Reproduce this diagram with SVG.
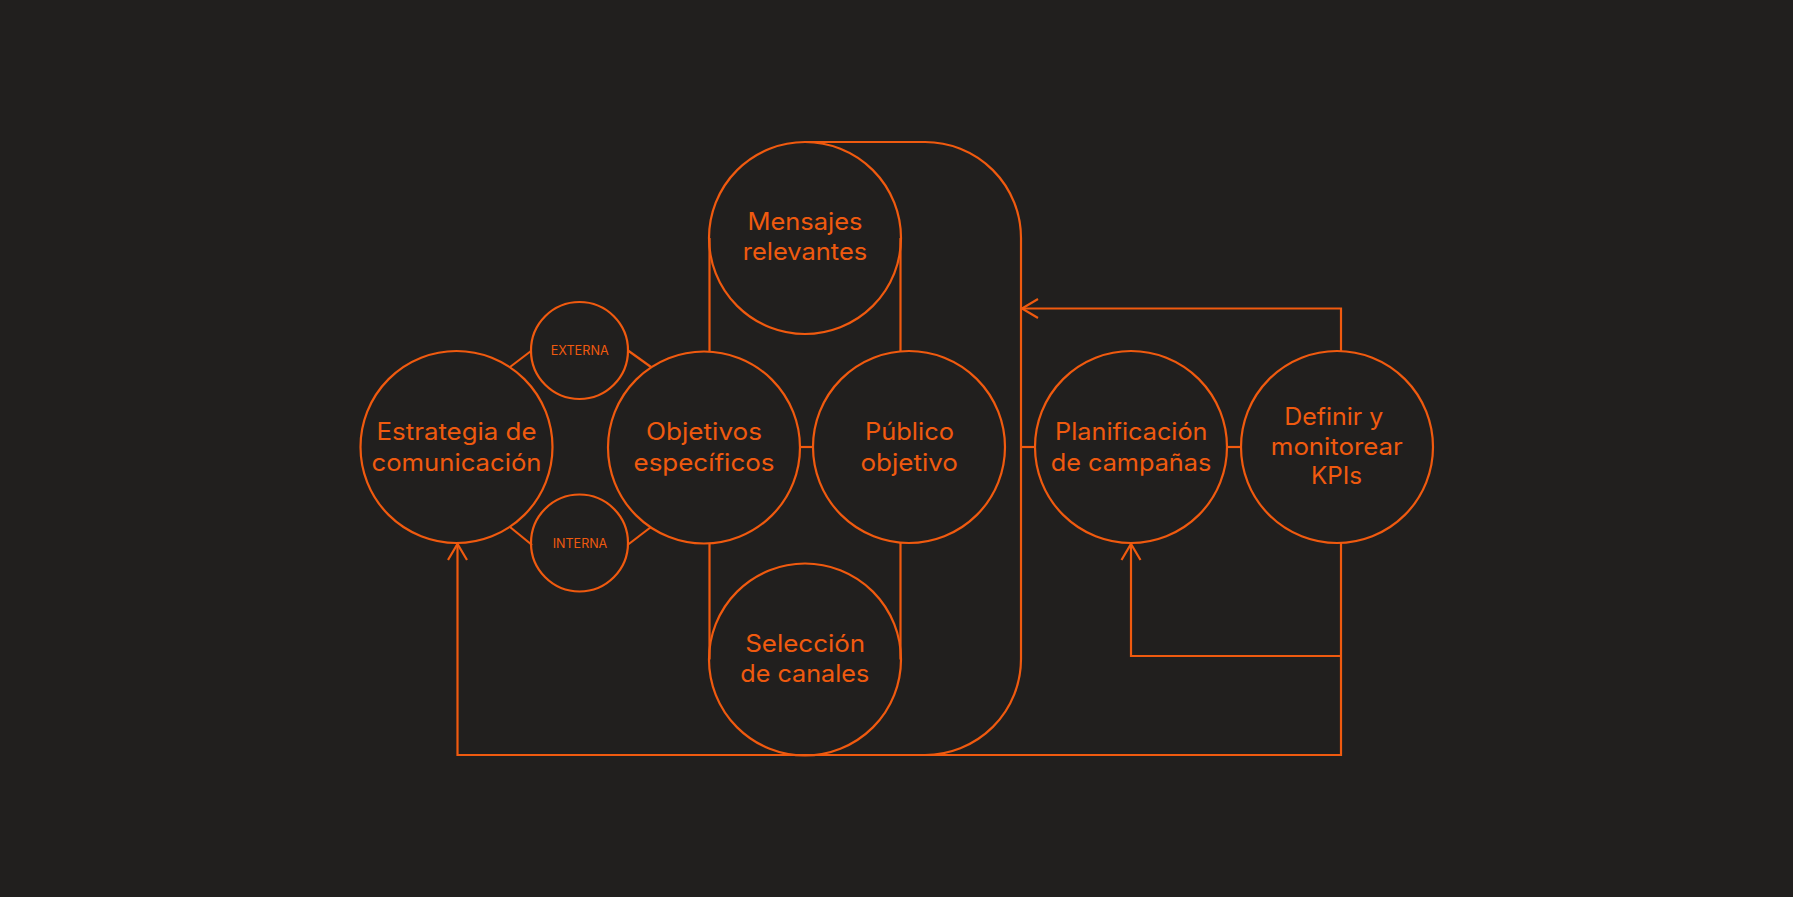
<svg xmlns="http://www.w3.org/2000/svg" width="1793" height="897" viewBox="0 0 1793 897">
<style>
.n{fill:none;stroke:#F05A0F;stroke-width:2.2}
.c{fill:none;stroke:#F05A0F;stroke-width:2.2;stroke-linejoin:miter}
.t{fill:#F05A0F;font-family:Inter,"Noto Sans","Liberation Sans",sans-serif;font-size:24px;text-anchor:middle}
.s{fill:#F05A0F;font-family:Inter,"Noto Sans","Liberation Sans",sans-serif;font-size:13px;text-anchor:middle}
</style>
<defs>
<marker id="arr" markerUnits="userSpaceOnUse" markerWidth="40" markerHeight="40" viewBox="-20 -20 40 40" refX="0" refY="0" orient="auto">
<path d="M -16 -9.5 L 0 0 L -16 9.5" fill="none" stroke="#F05A0F" stroke-width="2.2"/>
</marker>
</defs>
<rect width="1793" height="897" fill="#211F1E"/>
<g id="connectors">
<path class="c" d="M 510 367 L 531 351"/>
<path class="c" d="M 628 350.5 L 651 367"/>
<path class="c" d="M 510 527 L 532 545"/>
<path class="c" d="M 627.5 545 L 651 527"/>
<path class="c" d="M 800 447 H 813"/>
<path class="c" d="M 709.5 238 V 351.5 M 709.5 543.5 V 659.5 M 900.5 238 V 351.5 M 900.5 542.5 V 659.5"/>
<path class="c" d="M 805 142 H 925 A 96 96 0 0 1 1021 238 V 659 A 96 96 0 0 1 925 755"/>
<path class="c" d="M 1021 447 H 1035"/>
<path class="c" d="M 1227 447 H 1241"/>
<path class="c" d="M 1341 351 V 308.5 H 1022" marker-end="url(#arr)"/>
<path class="c" d="M 1341 656 H 1131 V 544" marker-end="url(#arr)"/>
<path class="c" d="M 1341 543 V 755 H 457.5 V 544" marker-end="url(#arr)"/>
</g>
<g id="estrategia">
<circle class="n" cx="456.5" cy="447" r="96"/>
<text class="t" x="456.5" y="440" textLength="160" lengthAdjust="spacingAndGlyphs">Estrategia de</text>
<text class="t" x="456.5" y="470.5" textLength="170" lengthAdjust="spacingAndGlyphs">comunicación</text>
</g>
<g id="externa">
<circle class="n" cx="579.5" cy="350.5" r="48.5"/>
<text class="s" x="579.7" y="355.3" textLength="58" lengthAdjust="spacingAndGlyphs">EXTERNA</text>
</g>
<g id="interna">
<circle class="n" cx="579.5" cy="543" r="48.5"/>
<text class="s" x="580" y="547.7" textLength="54.5" lengthAdjust="spacingAndGlyphs">INTERNA</text>
</g>
<g id="objetivos">
<circle class="n" cx="704" cy="447.5" r="96"/>
<text class="t" x="704" y="440" textLength="116" lengthAdjust="spacingAndGlyphs">Objetivos</text>
<text class="t" x="704" y="470.5" textLength="141" lengthAdjust="spacingAndGlyphs">específicos</text>
</g>
<g id="mensajes">
<circle class="n" cx="805" cy="238" r="96"/>
<text class="t" x="805" y="230" textLength="115" lengthAdjust="spacingAndGlyphs">Mensajes</text>
<text class="t" x="805" y="260" textLength="124.5" lengthAdjust="spacingAndGlyphs">relevantes</text>
</g>
<g id="publico">
<circle class="n" cx="909" cy="447" r="96"/>
<text class="t" x="909.5" y="440" textLength="89" lengthAdjust="spacingAndGlyphs">Público</text>
<text class="t" x="909.2" y="470.5" textLength="97.5" lengthAdjust="spacingAndGlyphs">objetivo</text>
</g>
<g id="seleccion">
<circle class="n" cx="805" cy="659.5" r="96"/>
<text class="t" x="805.2" y="651.7" textLength="120" lengthAdjust="spacingAndGlyphs">Selección</text>
<text class="t" x="804.8" y="682.3" textLength="129" lengthAdjust="spacingAndGlyphs">de canales</text>
</g>
<g id="planificacion">
<circle class="n" cx="1131" cy="447" r="96"/>
<text class="t" x="1131.3" y="440" textLength="152.5" lengthAdjust="spacingAndGlyphs">Planificación</text>
<text class="t" x="1131" y="470.5" textLength="160.5" lengthAdjust="spacingAndGlyphs">de campañas</text>
</g>
<g id="definir">
<circle class="n" cx="1337" cy="447" r="96"/>
<text class="t" x="1333.8" y="425" textLength="99" lengthAdjust="spacingAndGlyphs">Definir y</text>
<text class="t" x="1336.8" y="455" textLength="132" lengthAdjust="spacingAndGlyphs">monitorear</text>
<text class="t" x="1336.5" y="484.3" textLength="51" lengthAdjust="spacingAndGlyphs">KPIs</text>
</g>
</svg>
